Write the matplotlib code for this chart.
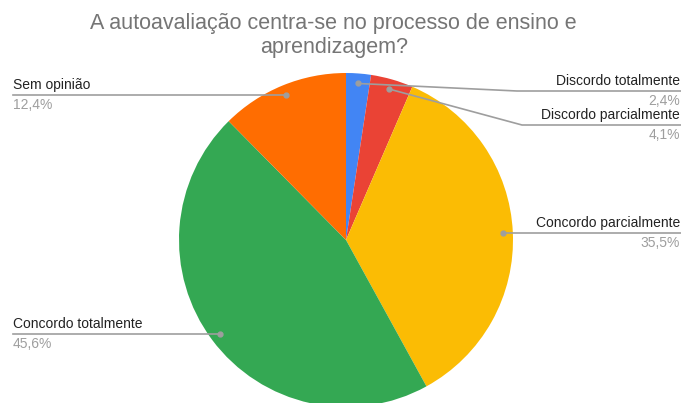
import matplotlib
matplotlib.use("Agg")
import matplotlib.pyplot as plt
import numpy as np

plt.rcParams['font.family'] = ['Liberation Sans', 'DejaVu Sans']

# slices, clockwise from 12 o'clock
labels = ['Discordo totalmente', 'Discordo parcialmente', 'Concordo parcialmente',
          'Concordo totalmente', 'Sem opinião']
values = [2.4, 4.1, 35.5, 45.6, 12.4]
pct_text = ['2,4%', '4,1%', '35,5%', '45,6%', '12,4%']
colors = ['#4285F4', '#EA4335', '#FBBC04', '#34A853', '#FF6D01']

W, H = 681, 403
fig = plt.figure(figsize=(W / 100, H / 100), dpi=100)
ax = fig.add_axes([0, 0, 1, 1])

cx, cy, R = 346, H - 240, 167
ax.pie(values, colors=colors, startangle=90, counterclock=False,
       center=(cx, cy), radius=R, frame=True,
       wedgeprops=dict(linewidth=0))
ax.set_xlim(0, W)
ax.set_ylim(0, H)
ax.set_aspect('equal')
ax.axis('off')

fig.text(0.49, 1 - 23 / H, 'A autoavaliação centra-se no processo de ensino e',
         ha='center', va='center', fontsize=15.5, color='#757575')
fig.text(0.49, 1 - 48 / H, 'aprendizagem?',
         ha='center', va='center', fontsize=15.5, color='#757575')

# dot positions from wedge middles
frac = np.array(values) / sum(values)
mids = (np.cumsum(frac) - frac / 2) * 2 * np.pi
r_dot = 0.94 * R
dots = [(cx + r_dot * np.sin(a), cy + r_dot * np.cos(a)) for a in mids]

line_c = '#9e9e9e'
# (side, elbow x, elbow y in pixels from top or None)
layout = [('right', 517, 91), ('right', 522, 125), ('right', None, None),
          ('left', None, None), ('left', None, None)]

for (dx, dy), lab, pct, (side, ex, ey) in zip(dots, labels, pct_text, layout):
    ax.plot(dx, dy, 'o', color=line_c, markersize=3.5, zorder=5)
    if side == 'left':
        ly = dy
        ax.plot([13, dx], [ly, ly], color=line_c, lw=1.2, zorder=4)
        ax.text(13, ly + 6, lab, ha='left', va='baseline', fontsize=10, color='#222222')
        ax.text(13, ly - 3, pct, ha='left', va='top', fontsize=10, color='#9e9e9e')
    else:
        if ex is None:
            ly = dy
            ax.plot([dx, W], [ly, ly], color=line_c, lw=1.2, zorder=4)
        else:
            ly = H - ey
            ax.plot([dx, ex, W], [dy, ly, ly], color=line_c, lw=1.2, zorder=4)
        ax.text(W - 1, ly + 6, lab, ha='right', va='baseline', fontsize=10, color='#222222')
        ax.text(W - 1, ly - 3, pct, ha='right', va='top', fontsize=10, color='#9e9e9e')

fig.savefig('out.png', dpi=100, facecolor='white')
